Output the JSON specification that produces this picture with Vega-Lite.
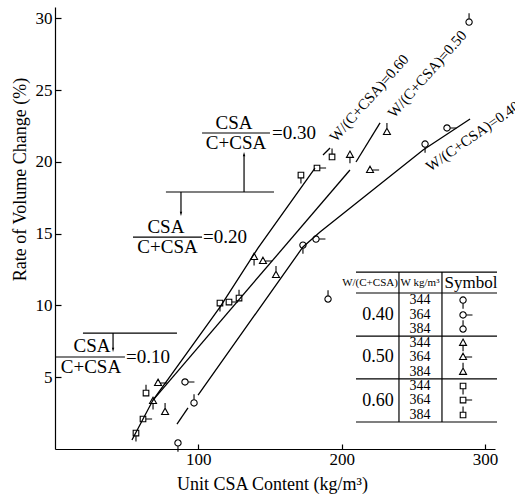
{
  "$schema": "https://vega.github.io/schema/vega-lite/v6.json",
  "width": 440,
  "height": 442,
  "autosize": {"type": "none"},
  "padding": {"left": 55, "top": 7, "right": 20, "bottom": 45},
  "background": "white",
  "config": {"view": {"stroke": null}, "text": {"font": "Liberation Serif", "color": "black"}},
  "datasets": {
    "pts": [
      {"csa": "0.10", "wc": "0.60", "w": 344, "series": "0.60/344", "x": 56.5, "y": 1.11},
      {"csa": "0.10", "wc": "0.60", "w": 364, "series": "0.60/364", "x": 61.4, "y": 2.09},
      {"csa": "0.10", "wc": "0.60", "w": 384, "series": "0.60/384", "x": 63.5, "y": 3.9},
      {"csa": "0.10", "wc": "0.50", "w": 344, "series": "0.50/344", "x": 68.4, "y": 3.34},
      {"csa": "0.10", "wc": "0.50", "w": 364, "series": "0.50/364", "x": 71.9, "y": 4.6},
      {"csa": "0.10", "wc": "0.50", "w": 384, "series": "0.50/384", "x": 76.8, "y": 2.58},
      {"csa": "0.10", "wc": "0.40", "w": 344, "series": "0.40/344", "x": 85.8, "y": 0.42},
      {"csa": "0.10", "wc": "0.40", "w": 364, "series": "0.40/364", "x": 90.7, "y": 4.67},
      {"csa": "0.10", "wc": "0.40", "w": 384, "series": "0.40/384", "x": 97.0, "y": 3.21},
      {"csa": "0.20", "wc": "0.60", "w": 344, "series": "0.60/344", "x": 115.1, "y": 10.17},
      {"csa": "0.20", "wc": "0.60", "w": 364, "series": "0.60/364", "x": 121.4, "y": 10.24},
      {"csa": "0.20", "wc": "0.60", "w": 384, "series": "0.60/384", "x": 128.4, "y": 10.52},
      {"csa": "0.20", "wc": "0.50", "w": 344, "series": "0.50/344", "x": 138.9, "y": 13.38},
      {"csa": "0.20", "wc": "0.50", "w": 364, "series": "0.50/364", "x": 145.1, "y": 13.1},
      {"csa": "0.20", "wc": "0.50", "w": 384, "series": "0.50/384", "x": 154.2, "y": 12.12},
      {"csa": "0.20", "wc": "0.40", "w": 344, "series": "0.40/344", "x": 173.0, "y": 14.21},
      {"csa": "0.20", "wc": "0.40", "w": 364, "series": "0.40/364", "x": 182.1, "y": 14.63},
      {"csa": "0.20", "wc": "0.40", "w": 384, "series": "0.40/384", "x": 190.5, "y": 10.45},
      {"csa": "0.30", "wc": "0.60", "w": 344, "series": "0.60/344", "x": 171.6, "y": 19.09},
      {"csa": "0.30", "wc": "0.60", "w": 364, "series": "0.60/364", "x": 182.8, "y": 19.58},
      {"csa": "0.30", "wc": "0.60", "w": 384, "series": "0.60/384", "x": 193.3, "y": 20.35},
      {"csa": "0.30", "wc": "0.50", "w": 344, "series": "0.50/344", "x": 205.8, "y": 20.49},
      {"csa": "0.30", "wc": "0.50", "w": 364, "series": "0.50/364", "x": 219.8, "y": 19.44},
      {"csa": "0.30", "wc": "0.50", "w": 384, "series": "0.50/384", "x": 231.6, "y": 22.09},
      {"csa": "0.30", "wc": "0.40", "w": 344, "series": "0.40/344", "x": 258.2, "y": 21.25},
      {"csa": "0.30", "wc": "0.40", "w": 364, "series": "0.40/364", "x": 273.5, "y": 22.37},
      {"csa": "0.30", "wc": "0.40", "w": 384, "series": "0.40/384", "x": 288.9, "y": 29.75}
    ],
    "legsym": [
      {"series": "0.40/344", "x": 284.7, "y": 10.38},
      {"series": "0.40/364", "x": 284.7, "y": 9.34},
      {"series": "0.40/384", "x": 284.7, "y": 8.36},
      {"series": "0.50/344", "x": 284.7, "y": 7.39},
      {"series": "0.50/364", "x": 284.7, "y": 6.41},
      {"series": "0.50/384", "x": 284.7, "y": 5.37},
      {"series": "0.60/344", "x": 284.7, "y": 4.39},
      {"series": "0.60/364", "x": 284.7, "y": 3.41},
      {"series": "0.60/384", "x": 284.7, "y": 2.37}
    ],
    "lines": [
      {"id": "L60a", "ord": 1, "x": 53.7, "y": 0.63},
      {"id": "L60a", "ord": 2, "x": 68.4, "y": 3.41},
      {"id": "L60a", "ord": 3, "x": 115.1, "y": 9.89},
      {"id": "L60a", "ord": 4, "x": 141.6, "y": 14.0},
      {"id": "L60a", "ord": 5, "x": 181.4, "y": 19.58},
      {"id": "L60b", "ord": 1, "x": 187.0, "y": 20.49},
      {"id": "L60b", "ord": 2, "x": 191.9, "y": 20.97},
      {"id": "L50a", "ord": 1, "x": 68.4, "y": 3.41},
      {"id": "L50a", "ord": 2, "x": 205.8, "y": 19.44},
      {"id": "L50b", "ord": 1, "x": 210.0, "y": 20.0},
      {"id": "L50b", "ord": 2, "x": 226.8, "y": 22.72},
      {"id": "L40a", "ord": 1, "x": 85.1, "y": 1.74},
      {"id": "L40a", "ord": 2, "x": 92.8, "y": 2.86},
      {"id": "L40b", "ord": 1, "x": 99.8, "y": 3.76},
      {"id": "L40b", "ord": 2, "x": 173.0, "y": 14.08},
      {"id": "L40b", "ord": 3, "x": 184.9, "y": 15.12},
      {"id": "L40b", "ord": 4, "x": 256.8, "y": 20.83},
      {"id": "L40b", "ord": 5, "x": 289.6, "y": 23.0}
    ],
    "rules": [
      {"x": 210.0, "x2": 308.4, "y": 12.33, "y2": 12.33},
      {"x": 210.0, "x2": 308.4, "y": 10.87, "y2": 10.87},
      {"x": 210.0, "x2": 308.4, "y": 7.87, "y2": 7.87},
      {"x": 210.0, "x2": 308.4, "y": 4.88, "y2": 4.88},
      {"x": 210.0, "x2": 308.4, "y": 1.88, "y2": 1.88},
      {"x": 240.0, "x2": 240.0, "y": 12.33, "y2": 1.88},
      {"x": 270.0, "x2": 270.0, "y": 12.33, "y2": 1.88},
      {"x": 102.6, "x2": 150.0, "y": 22.02, "y2": 22.02},
      {"x": 54.4, "x2": 102.6, "y": 14.77, "y2": 14.77},
      {"x": 0.5, "x2": 48.8, "y": 6.41, "y2": 6.41},
      {"x": 77.4, "x2": 152.8, "y": 17.91, "y2": 17.91},
      {"x": 19.5, "x2": 85.1, "y": 8.08, "y2": 8.08},
      {"x": 131.9, "x2": 131.9, "y": 17.91, "y2": 20.5},
      {"x": 87.9, "x2": 87.9, "y": 17.91, "y2": 16.5},
      {"x": 40.5, "x2": 40.5, "y": 8.08, "y2": 7.0}
    ],
    "arrows": [
      {"dir": "up", "x": 131.9, "y": 20.7},
      {"dir": "down", "x": 87.9, "y": 16.24},
      {"dir": "down", "x": 40.5, "y": 6.76}
    ]
  },
  "encoding": {
    "x": {
      "field": "x", "type": "quantitative",
      "scale": {"domain": [0, 307], "nice": false, "zero": false},
      "axis": {
        "values": [100, 200, 300], "grid": false, "tickSize": -5, "labelPadding": 7,
        "tickColor": "black", "domainColor": "black", "labelColor": "black",
        "domainWidth": 1.2, "tickWidth": 1.2,
        "labelFont": "Liberation Serif", "labelFontSize": 17,
        "title": "Unit CSA Content (kg/m³)", "titleFont": "Liberation Serif", "titleFontSize": 18,
        "titleFontWeight": "normal", "titleColor": "black",
        "titleX": 217, "titleY": 40, "titleBaseline": "alphabetic", "titleAlign": "center"
      }
    },
    "y": {
      "field": "y", "type": "quantitative",
      "scale": {"domain": [0, 30.8], "nice": false, "zero": false},
      "axis": {
        "values": [5, 10, 15, 20, 25, 30], "grid": false, "tickSize": -6, "labelPadding": 9,
        "tickColor": "black", "domainColor": "black", "labelColor": "black",
        "domainWidth": 1.2, "tickWidth": 1.2,
        "labelFont": "Liberation Serif", "labelFontSize": 17,
        "title": "Rate of Volume Change (%)", "titleFont": "Liberation Serif", "titleFontSize": 18,
        "titleFontWeight": "normal", "titleColor": "black", "titleAngle": -90,
        "titleX": -30, "titleY": 172, "titleBaseline": "alphabetic", "titleAlign": "center"
      }
    }
  },
  "layer": [
    {
      "data": {"name": "lines"},
      "mark": {"type": "line", "color": "black", "strokeWidth": 1.3},
      "encoding": {"detail": {"field": "id"}, "order": {"field": "ord"}}
    },
    {
      "data": {"name": "rules"},
      "mark": {"type": "rule", "color": "black", "strokeWidth": 1.2},
      "encoding": {"x2": {"field": "x2"}, "y2": {"field": "y2"}}
    },
    {
      "data": {"name": "arrows"},
      "transform": [{"filter": "datum.dir == 'up'"}],
      "mark": {"type": "point", "filled": true, "color": "black", "opacity": 1, "size": 36, "shape": "M0,0L-0.4,1.4L0.4,1.4Z"}
    },
    {
      "data": {"name": "arrows"},
      "transform": [{"filter": "datum.dir == 'down'"}],
      "mark": {"type": "point", "filled": true, "color": "black", "opacity": 1, "size": 36, "shape": "M0,0L-0.4,-1.4L0.4,-1.4Z"}
    },
    {
      "data": {"name": "pts"},
      "mark": {"type": "point", "filled": false, "color": "black", "opacity": 1, "strokeWidth": 1.1, "size": 196},
      "encoding": {
        "shape": {
          "field": "series", "type": "nominal", "legend": null,
          "scale": {
            "domain": ["0.40/344", "0.40/364", "0.40/384", "0.50/344", "0.50/364", "0.50/384", "0.60/344", "0.60/364", "0.60/384"],
            "range": [
              "M-0.45,0A0.45,0.45,0,1,1,0.45,0A0.45,0.45,0,1,1,-0.45,0ZM0,0.45L0,1.25",
              "M-0.45,0A0.45,0.45,0,1,1,0.45,0A0.45,0.45,0,1,1,-0.45,0ZM0.45,0L1.35,0",
              "M-0.45,0A0.45,0.45,0,1,1,0.45,0A0.45,0.45,0,1,1,-0.45,0ZM0,-0.45L0,-1.25",
              "M0,-0.55L0.5,0.35L-0.5,0.35ZM0,0.35L0,1.2",
              "M0,-0.55L0.5,0.35L-0.5,0.35ZM0.3,0L1.3,0",
              "M0,-0.55L0.5,0.35L-0.5,0.35ZM0,-0.55L0,-1.3",
              "M-0.4,-0.4L0.4,-0.4L0.4,0.4L-0.4,0.4ZM0,0.4L0,1.2",
              "M-0.4,-0.4L0.4,-0.4L0.4,0.4L-0.4,0.4ZM0.4,0L1.3,0",
              "M-0.4,-0.4L0.4,-0.4L0.4,0.4L-0.4,0.4ZM0,-0.4L0,-1.2"
            ]
          }
        }
      }
    },
    {
      "data": {"name": "legsym"},
      "mark": {"type": "point", "filled": false, "color": "black", "opacity": 1, "strokeWidth": 1.1, "size": 196},
      "encoding": {"shape": {"field": "series", "type": "nominal", "legend": null}}
    },
    {
      "data": {"values": [
        {"t": "CSA", "x": 124.9, "y": 22.72},
        {"t": "C+CSA", "x": 126.3, "y": 21.32},
        {"t": "CSA", "x": 77.4, "y": 15.47},
        {"t": "C+CSA", "x": 78.5, "y": 14.08},
        {"t": "CSA", "x": 25.8, "y": 7.18},
        {"t": "C+CSA", "x": 25.1, "y": 5.71}
      ]},
      "mark": {"type": "text", "fontSize": 19, "align": "center", "baseline": "middle"},
      "encoding": {"text": {"field": "t"}}
    },
    {
      "data": {"values": [
        {"t": "=0.30", "x": 151.4, "y": 22.02},
        {"t": "=0.20", "x": 103.3, "y": 14.77},
        {"t": "=0.10", "x": 49.5, "y": 6.41}
      ]},
      "mark": {"type": "text", "fontSize": 19, "align": "left", "baseline": "middle"},
      "encoding": {"text": {"field": "t"}}
    },
    {
      "data": {"values": [
        {"t": "W/(C+CSA)=0.60", "x": 219.1, "y": 24.46},
        {"t": "W/(C+CSA)=0.50", "x": 259.6, "y": 26.13}
      ]},
      "mark": {"type": "text", "fontSize": 15, "align": "center", "baseline": "middle", "angle": -48.5},
      "encoding": {"text": {"field": "t"}}
    },
    {
      "data": {"values": [
        {"t": "W/(C+CSA)=0.40", "x": 291.5, "y": 21.8}
      ]},
      "mark": {"type": "text", "fontSize": 15, "align": "center", "baseline": "middle", "angle": -35},
      "encoding": {"text": {"field": "t"}}
    },
    {
      "data": {"values": [
        {"t": "W/(C+CSA)", "x": 219.8, "y": 11.57},
        {"t": "W kg/m³", "x": 254.7, "y": 11.57}
      ]},
      "mark": {"type": "text", "fontSize": 11, "align": "center", "baseline": "middle"},
      "encoding": {"text": {"field": "t"}}
    },
    {
      "data": {"values": [
        {"t": "Symbol", "x": 290.3, "y": 11.57}
      ]},
      "mark": {"type": "text", "fontSize": 17, "align": "center", "baseline": "middle"},
      "encoding": {"text": {"field": "t"}}
    },
    {
      "data": {"values": [
        {"t": "0.40", "x": 225.4, "y": 9.34},
        {"t": "0.50", "x": 225.4, "y": 6.41},
        {"t": "0.60", "x": 225.4, "y": 3.34}
      ]},
      "mark": {"type": "text", "fontSize": 18, "align": "center", "baseline": "middle"},
      "encoding": {"text": {"field": "t"}}
    },
    {
      "data": {"values": [
        {"t": "344", "x": 254.7, "y": 10.38},
        {"t": "364", "x": 254.7, "y": 9.34},
        {"t": "384", "x": 254.7, "y": 8.36},
        {"t": "344", "x": 254.7, "y": 7.39},
        {"t": "364", "x": 254.7, "y": 6.41},
        {"t": "384", "x": 254.7, "y": 5.37},
        {"t": "344", "x": 254.7, "y": 4.39},
        {"t": "364", "x": 254.7, "y": 3.41},
        {"t": "384", "x": 254.7, "y": 2.37}
      ]},
      "mark": {"type": "text", "fontSize": 14, "align": "center", "baseline": "middle"},
      "encoding": {"text": {"field": "t"}}
    }
  ]
}
